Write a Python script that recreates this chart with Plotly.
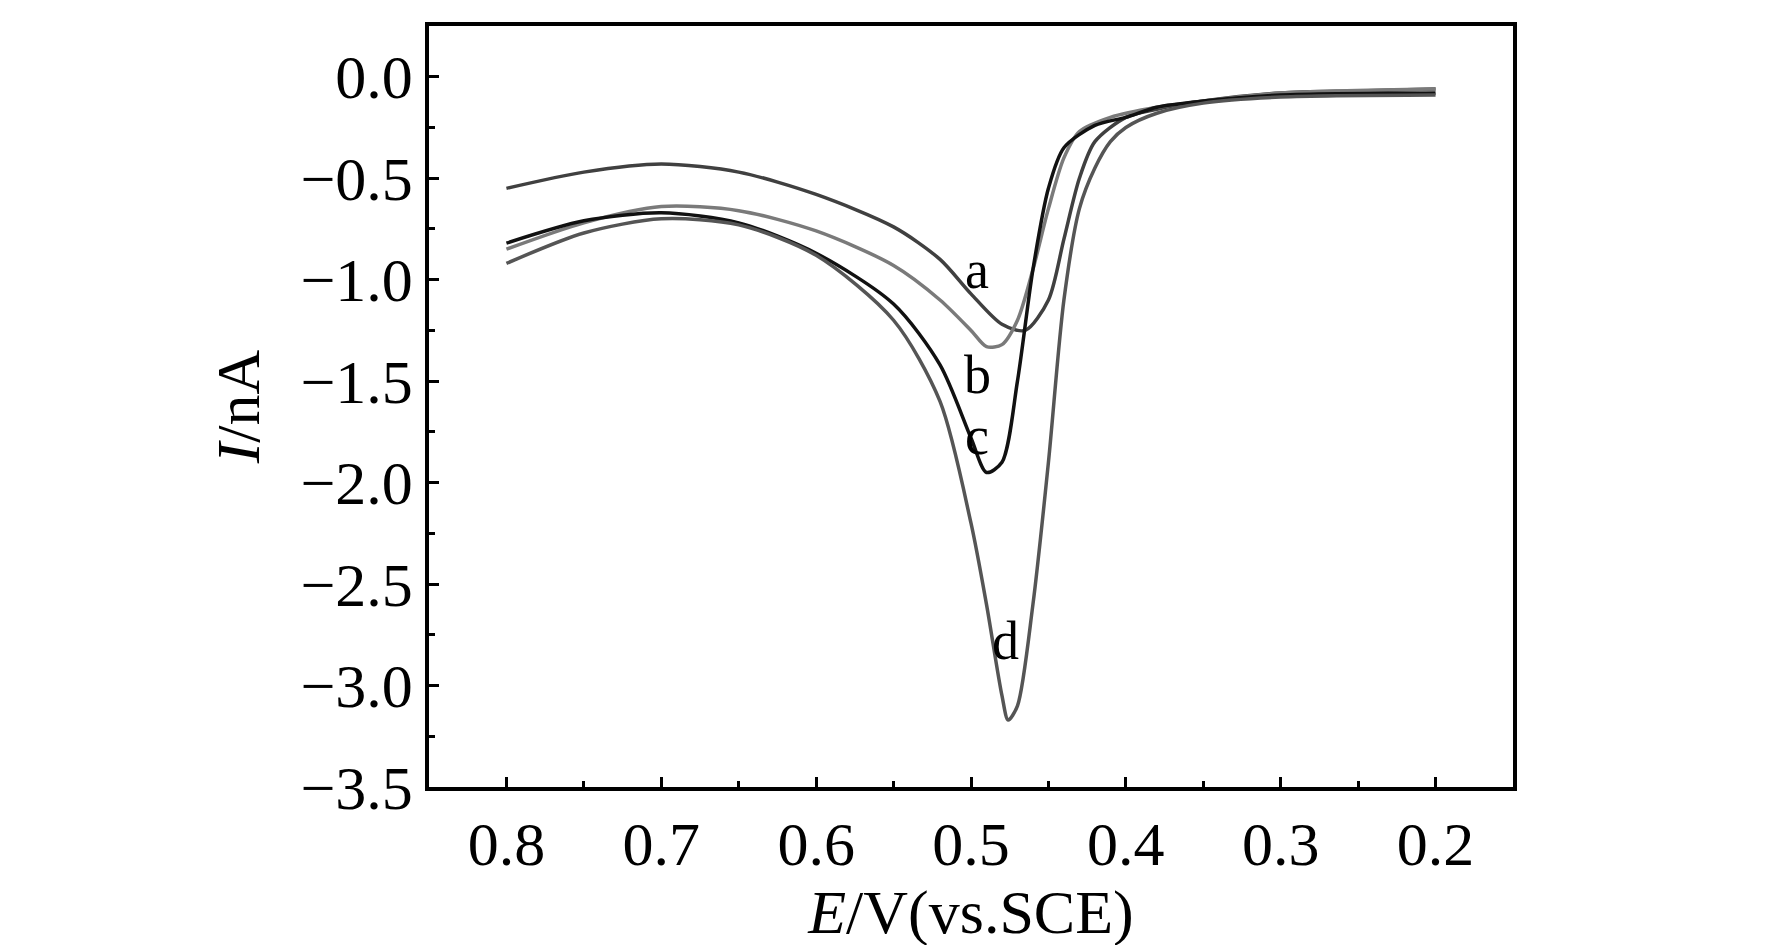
import plotly.graph_objects as go

E_a = [0.8,0.75,0.7,0.65,0.6,0.55,0.52,0.5,0.48,0.465,0.45,0.44,0.43,0.42,0.40,0.38,0.35,0.3,0.25,0.2]
I_a = [-0.55,-0.47,-0.43,-0.47,-0.58,-0.74,-0.9,-1.07,-1.22,-1.25,-1.1,-0.8,-0.5,-0.32,-0.2,-0.16,-0.12,-0.08,-0.07,-0.06]
E_b = [0.8,0.75,0.7,0.65,0.6,0.55,0.52,0.5,0.49,0.48,0.47,0.46,0.45,0.44,0.43,0.41,0.38,0.35,0.3,0.2]
I_b = [-0.85,-0.72,-0.64,-0.66,-0.76,-0.93,-1.1,-1.25,-1.33,-1.32,-1.2,-0.95,-0.65,-0.4,-0.27,-0.2,-0.15,-0.12,-0.08,-0.06]
E_c = [0.8,0.75,0.7,0.65,0.6,0.55,0.52,0.5,0.49,0.48,0.47,0.46,0.45,0.44,0.42,0.40,0.38,0.35,0.3,0.2]
I_c = [-0.82,-0.71,-0.67,-0.72,-0.87,-1.12,-1.42,-1.78,-1.95,-1.9,-1.5,-0.95,-0.55,-0.35,-0.24,-0.2,-0.15,-0.12,-0.09,-0.08]
E_d = [0.8,0.75,0.7,0.65,0.6,0.55,0.52,0.5,0.49,0.48,0.476,0.47,0.46,0.45,0.44,0.43,0.42,0.41,0.40,0.38,0.35,0.3,0.2]
I_d = [-0.92,-0.77,-0.70,-0.73,-0.88,-1.2,-1.6,-2.2,-2.6,-3.05,-3.17,-3.1,-2.6,-1.9,-1.1,-0.65,-0.45,-0.32,-0.25,-0.18,-0.13,-0.1,-0.09]

labels = ["a","b","c","d"]
label_E = [0.496,0.496,0.496,0.478]
label_I = [-0.95,-1.47,-1.77,-2.78]

fig = go.Figure()
for E, I, col in [(E_a,I_a,"#404040"),(E_b,I_b,"#7a7a7a"),(E_c,I_c,"#111111"),(E_d,I_d,"#555555")]:
    fig.add_trace(go.Scatter(x=E, y=I, mode="lines", line=dict(color=col, width=3.5, shape="spline", smoothing=0.8), showlegend=False))
for t, x, y in zip(labels, label_E, label_I):
    fig.add_annotation(x=x, y=y, text=t, showarrow=False, font=dict(family="Liberation Serif", size=54, color="black"))

fnt = dict(family="Liberation Serif", size=62, color="black")
fig.update_layout(
    width=1772, height=945, paper_bgcolor="white", plot_bgcolor="white",
    margin=dict(l=421, r=267, t=18, b=166),
    font=fnt,
    xaxis=dict(range=[0.85,0.15], tickvals=[0.8,0.7,0.6,0.5,0.4,0.3,0.2], ticktext=["0.8","0.7","0.6","0.5","0.4","0.3","0.2"],
               ticks="inside", ticklen=10, tickwidth=3, tickcolor="black", minor=dict(dtick=0.05, ticks="inside", ticklen=6, tickwidth=3, tickcolor="black"),
               showline=True, linewidth=3.5, linecolor="black", mirror=True, showgrid=False, zeroline=False,
               title=dict(text="<i>E</i>/V(vs.SCE)", font=fnt, standoff=8)),
    yaxis=dict(range=[-3.5,0.25], tickvals=[0,-0.5,-1,-1.5,-2,-2.5,-3,-3.5], ticktext=["0.0","−0.5","−1.0","−1.5","−2.0","−2.5","−3.0","−3.5"],
               ticks="inside", ticklen=10, tickwidth=3, tickcolor="black", minor=dict(dtick=0.25, ticks="inside", ticklen=6, tickwidth=3, tickcolor="black"),
               showline=True, linewidth=3.5, linecolor="black", mirror=True, showgrid=False, zeroline=False,
               title=dict(text="<i>I</i>/nA", font=fnt, standoff=22)),
)
fig.write_html("out.html")
